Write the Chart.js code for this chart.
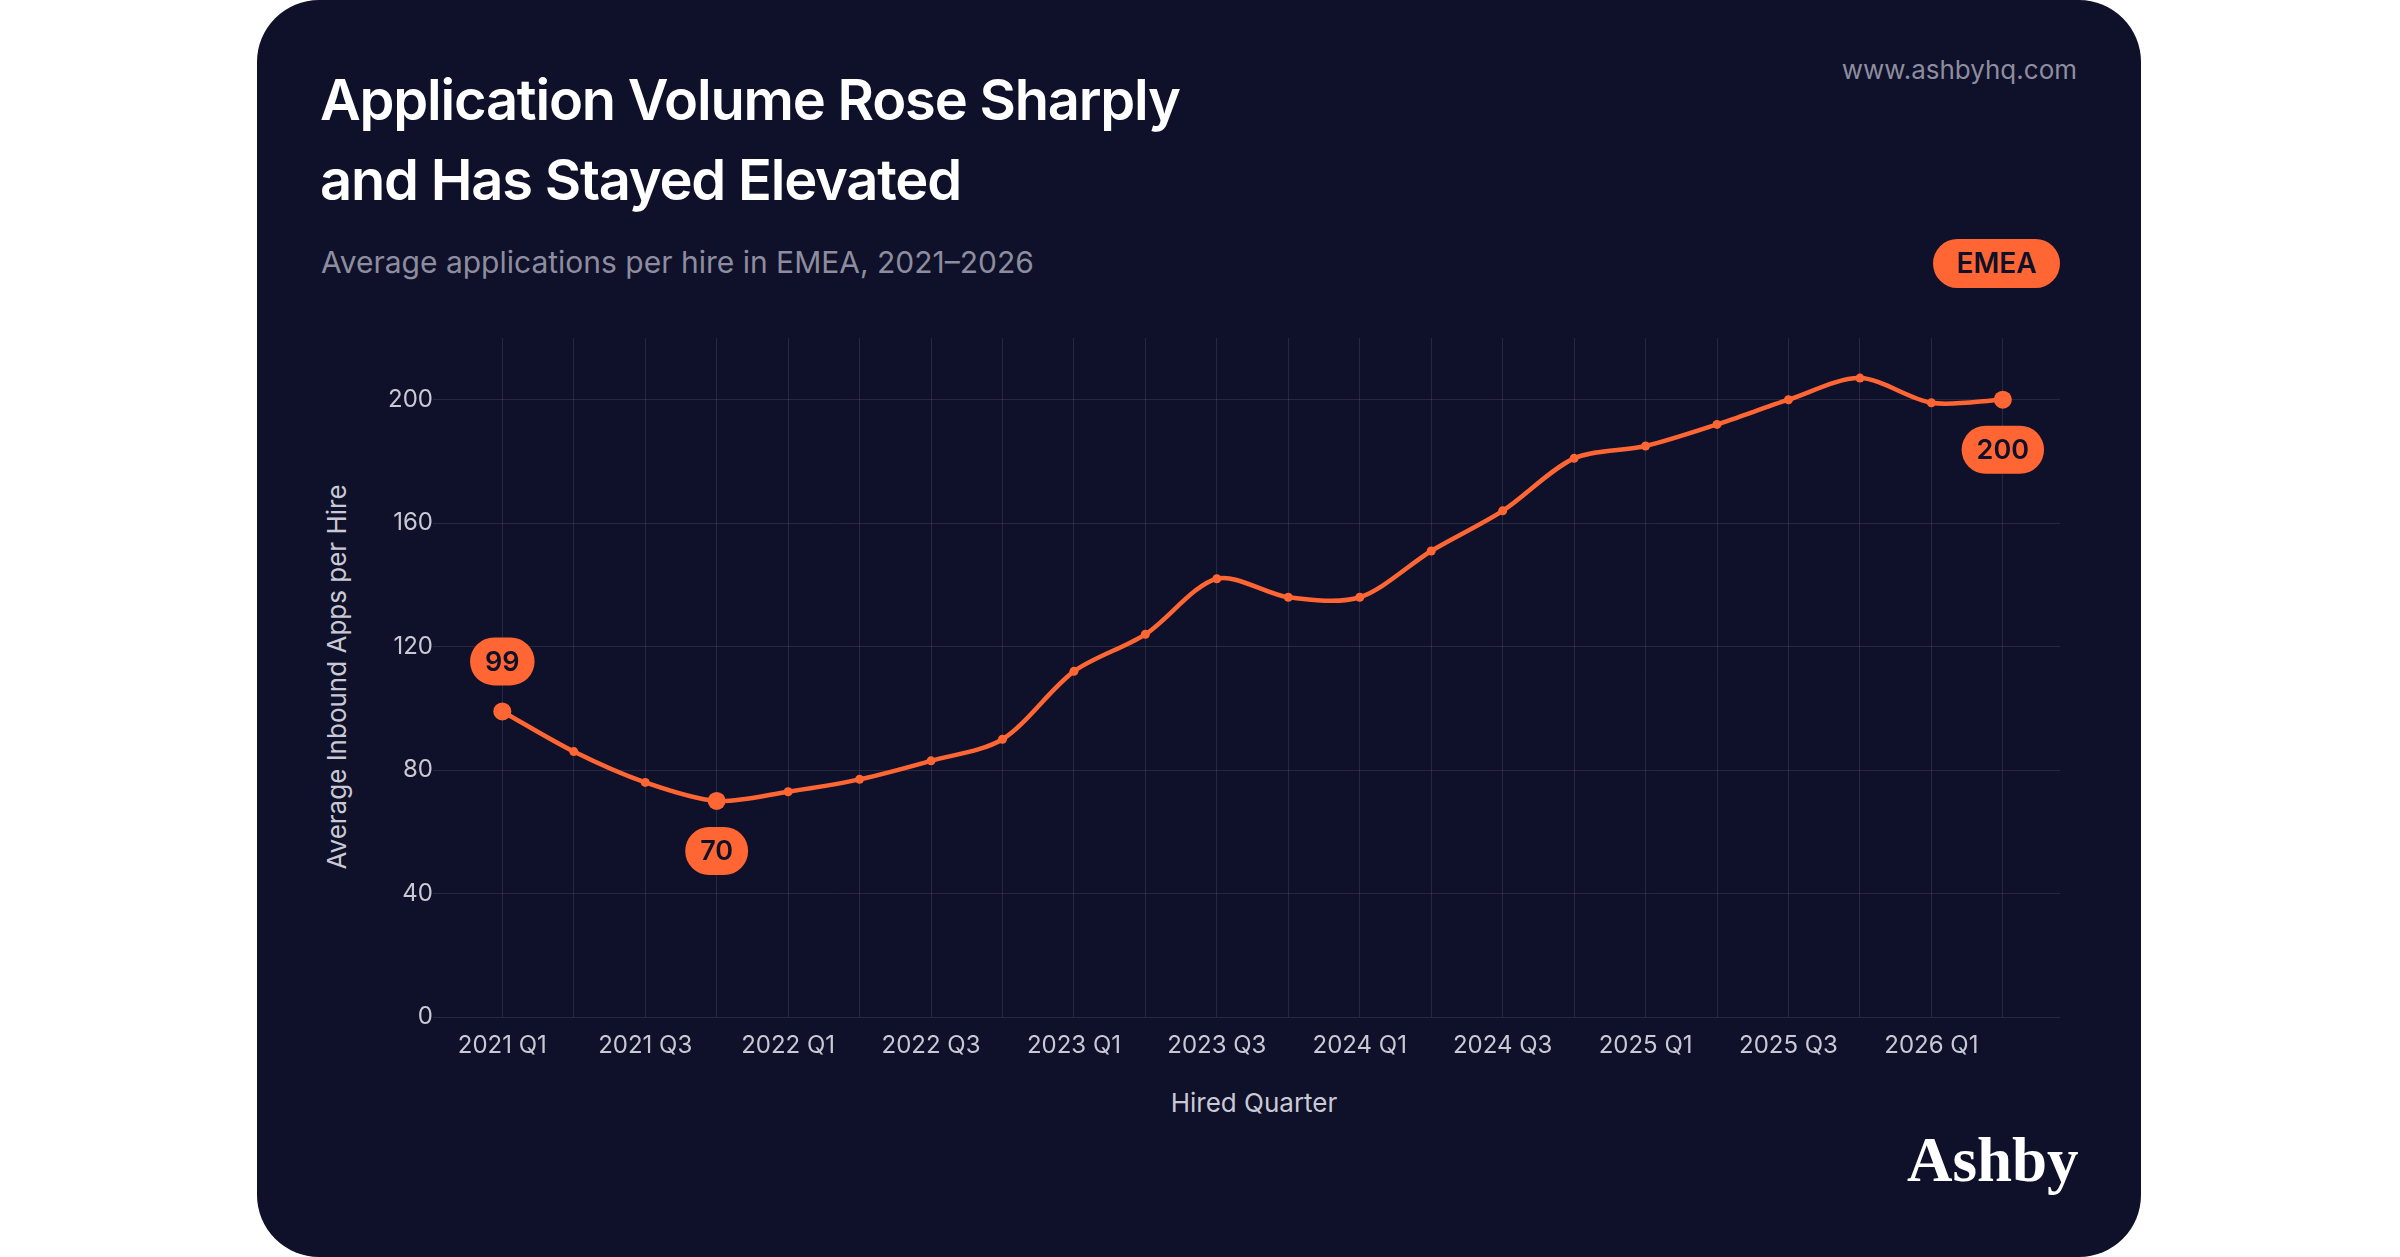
<!DOCTYPE html>
<html><head><meta charset="utf-8">
<script src="https://cdn.jsdelivr.net/npm/chart.js@4/dist/chart.umd.min.js"></script>
<style>
html,body{margin:0;padding:0;background:#fff;width:2400px;height:1257px;overflow:hidden;font-family:Inter,"Noto Sans",sans-serif}
#card{position:absolute;left:257px;top:0;width:1884px;height:1257px;background:#0f1029;border-radius:62px}
.t{position:absolute;white-space:nowrap}
#c{position:absolute;left:0;top:0}
</style></head><body>
<div id="card"></div>
<div class="t" style="left:320px;top:60px;color:#fff;font-size:56px;font-weight:600;line-height:80px;letter-spacing:-1.2px">Application Volume Rose Sharply<br>and Has Stayed Elevated</div>
<div class="t" style="left:321px;top:244px;color:#8d8d9f;font-size:30px">Average applications per hire in EMEA, 2021–2026</div>
<div class="t" style="right:323px;top:54px;color:#8d8d9f;font-size:26px">www.ashbyhq.com</div>
<div class="t" style="left:1933px;top:239px;width:127px;height:49px;border-radius:25px;background:#ff6633;color:#0f1029;font-size:28px;font-weight:600;text-align:center;line-height:49px">EMEA</div>
<div class="t" style="left:1907px;top:1124px;color:#fff;font-size:63px;font-weight:bold;font-family:'Liberation Serif','DejaVu Serif',serif">Ashby</div>
<div class="t" style="left:1254px;top:1087px;width:0;color:#c9c9d4;font-size:26px;display:flex;justify-content:center">Hired&nbsp;Quarter</div>
<div class="t" style="left:336px;top:677px;width:0;height:0"><div style="position:absolute;transform:translate(-50%,-50%) rotate(-90deg);color:#c9c9d4;font-size:26px;white-space:nowrap">Average Inbound Apps per Hire</div></div>
<canvas id="c" width="2400" height="1257"></canvas>
<script>
const quarters=["2021 Q1","2021 Q2","2021 Q3","2021 Q4","2022 Q1","2022 Q2","2022 Q3","2022 Q4","2023 Q1","2023 Q2","2023 Q3","2023 Q4","2024 Q1","2024 Q2","2024 Q3","2024 Q4","2025 Q1","2025 Q2","2025 Q3","2025 Q4","2026 Q1","2026 Q2"];
const appsPerHire=[99,86,76,70,73,77,83,90,112,124,142,136,136,151,164,181,185,192,200,207,199,200];
const highlighted=[0,3,21];
const highlightLabelAbove=[true,false,false];
const yTicks=[0,40,80,120,160,200];
const ORANGE="#ff6633";
const pts=appsPerHire.map((v,i)=>({x:i,y:v}));
const pillPlugin={id:'pills',afterDatasetsDraw(ch){
  const ctx=ch.ctx,xs=ch.scales.x,ys=ch.scales.y;
  highlighted.forEach((idx,k)=>{
    const px=xs.getPixelForValue(idx),py=ys.getPixelForValue(appsPerHire[idx]);
    const txt=String(appsPerHire[idx]);
    ctx.font="600 27px Inter";
    const w=ctx.measureText(txt).width+30,h=48;
    const cy=highlightLabelAbove[k]?py-50:py+50;
    ctx.fillStyle=ORANGE;ctx.beginPath();ctx.roundRect(px-w/2,cy-h/2,w,h,h/2);ctx.fill();
    ctx.fillStyle="#0f1029";ctx.textAlign="center";ctx.textBaseline="middle";ctx.fillText(txt,px,cy+1);
  });
}};
new Chart(document.getElementById('c'),{
  type:'line',
  data:{datasets:[{data:pts,borderColor:ORANGE,backgroundColor:ORANGE,borderWidth:4.5,tension:0.3,
    pointRadius:pts.map((p,i)=>highlighted.includes(i)?9:4.5),pointHoverRadius:9,pointBorderWidth:0}]},
  options:{responsive:false,animation:false,
    layout:{padding:{left:0,right:340,top:338,bottom:0}},
    plugins:{legend:{display:false},tooltip:{enabled:false}},
    scales:{
      x:{type:'linear',min:-0.97,max:21.8,
        afterFit(s){s.height=240;},
        afterBuildTicks(s){s.ticks=quarters.map((q,i)=>({value:i}));},
        ticks:{color:'#c9c9d4',font:{size:24,family:'Inter'},padding:14,maxRotation:0,autoSkip:false,
          callback:(v)=>(v%2===0?quarters[v]:'')},
        grid:{color:'rgba(255,255,255,0.1)',drawTicks:false},border:{display:false}},
      y:{min:0,max:220,
        afterFit(s){s.width=433;},
        afterBuildTicks(s){s.ticks=yTicks.map(v=>({value:v}));},
        ticks:{color:'#c9c9d4',font:{size:24,family:'Inter'},padding:0},
        grid:{color:'rgba(255,255,255,0.1)',drawTicks:false},border:{display:false}}
    }},
  plugins:[pillPlugin]
});
</script>
</body></html>
